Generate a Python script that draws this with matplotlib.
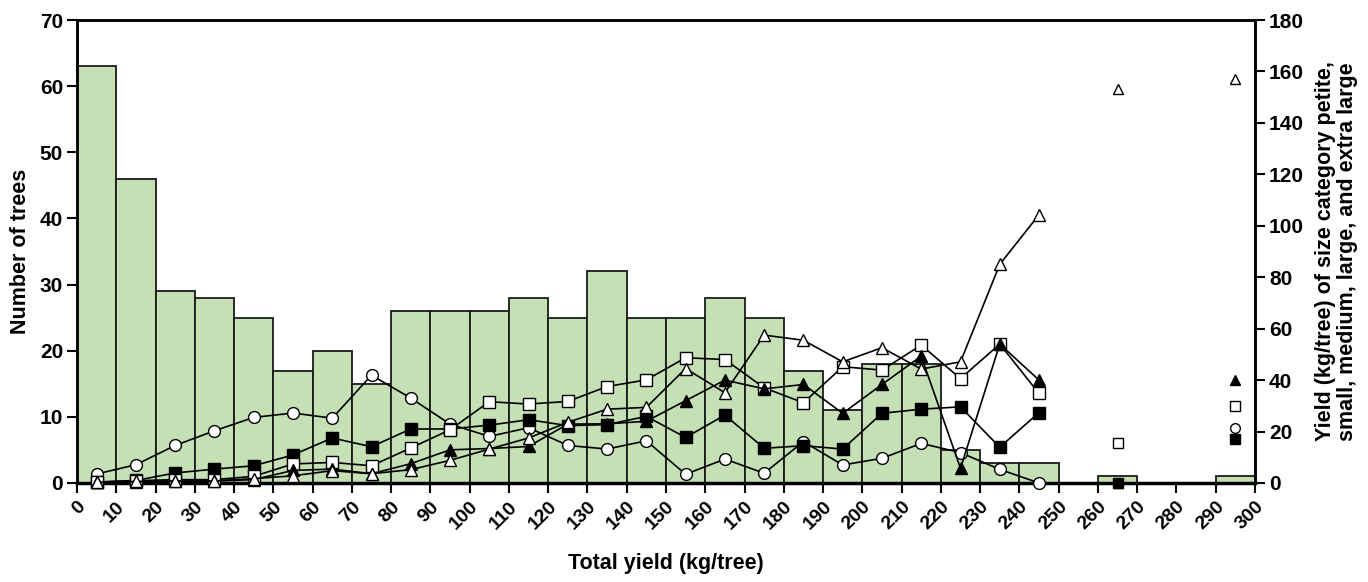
import matplotlib
matplotlib.use("Agg")
import matplotlib.pyplot as plt
import numpy as np

plt.rcParams['font.family'] = ['Liberation Sans', 'DejaVu Sans']
plt.rcParams['font.weight'] = 'bold'

# Histogram: number of trees per 10 kg total-yield bin
bin_left = list(range(0, 300, 10))
tree_counts = [63, 46, 29, 28, 25, 17, 20, 15, 26, 26, 26, 28, 25, 32, 25,
               25, 28, 25, 17, 11, 18, 18, 5, 3, 3, 0, 1, 0, 0, 1]

# Size-category yields (kg/tree) at bin midpoints 5..245 (connected lines)
mid = list(range(5, 250, 10))
petite = [3.5, 7.1, 14.6, 20.3, 25.5, 27.2, 25.2, 41.9, 33.0, 22.9, 18.1, 21.5, 14.6,
          13.2, 16.4, 3.4, 9.3, 3.8, 16.1, 7.0, 9.6, 15.4, 11.8, 5.3, 0.0]
small = [0.3, 1.0, 3.9, 5.4, 6.7, 10.9, 17.5, 14.1, 21.0, 21.0, 22.5, 24.6, 22.3,
         22.7, 25.9, 17.7, 26.4, 13.5, 14.5, 13.2, 27.1, 28.7, 29.6, 13.9, 27.4]
medium = [0.4, 0.9, 1.3, 1.3, 2.6, 7.4, 8.0, 6.7, 13.6, 20.7, 31.6, 30.7, 31.7,
          37.5, 40.1, 48.7, 48.0, 37.0, 31.2, 45.2, 43.9, 53.6, 40.6, 54.0, 34.8]
large = [0.2, 0.5, 0.8, 0.8, 1.3, 4.9, 5.4, 3.6, 7.5, 12.9, 13.4, 14.2, 22.9,
         23.0, 24.0, 32.0, 40.0, 36.6, 38.3, 27.1, 38.3, 49.3, 5.7, 54.0, 40.0]
extra_large = [0.2, 0.6, 0.6, 0.8, 1.7, 2.8, 4.8, 3.6, 5.2, 8.8, 13.2, 17.5, 23.6,
               28.7, 29.4, 44.5, 35.1, 57.5, 55.5, 47.1, 52.6, 44.3, 47.1, 85.0, 104.3]

# Isolated single-tree bins (unconnected points)
iso_x = [265, 295]
iso_petite = [0.0, 21.2]
iso_small = [0.0, 17.3]
iso_medium = [15.7, 29.9]
iso_large = [0.0, 40.0]
iso_extra_large = [153.0, 157.0]

x_ticks = list(range(0, 301, 10))

fig = plt.figure(figsize=(13.68, 5.82), dpi=100)
ax = fig.add_axes([77/1368, 1 - 483/582, (1255 - 77)/1368, (483 - 20)/582])
ax2 = ax.twinx()

ax.bar(bin_left, tree_counts, width=10, align='edge', color='#c5e0b4',
       edgecolor='#1a1a1a', linewidth=1.3, zorder=2)

ax.set_xlim(0, 300)
ax.set_ylim(0, 70)
ax2.set_ylim(0, 180)
ax.set_xticks(x_ticks)
ax.set_xticklabels([str(t) for t in x_ticks], rotation=45, ha='right',
                   rotation_mode='anchor', fontsize=14, fontweight='bold')
ax.set_yticks(range(0, 71, 10))
ax.set_yticklabels([str(t) for t in range(0, 71, 10)], fontsize=15, fontweight='bold')
ax2.set_yticks(range(0, 181, 20))
ax2.set_yticklabels([str(t) for t in range(0, 181, 20)], fontsize=15, fontweight='bold')

for a in (ax, ax2):
    for s in a.spines.values():
        s.set_linewidth(1.8)
        s.set_color('black')
ax.spines['bottom'].set_linewidth(2.5)
ax.tick_params(axis='both', direction='out', length=7, width=1.5, pad=3)
ax.tick_params(axis='x', pad=4)
ax2.tick_params(axis='y', direction='out', length=7, width=1.5, pad=3)

ms = 8.5
style = dict(color='black', lw=1.2, markeredgecolor='black', markeredgewidth=1.0)
ax2.plot(mid, petite, marker='o', markerfacecolor='white', markersize=ms, zorder=3, **style)
ax2.plot(mid, small, marker='s', markerfacecolor='black', markersize=ms - 0.5, zorder=4, **style)
ax2.plot(mid, medium, marker='s', markerfacecolor='white', markersize=ms - 0.5, zorder=5, **style)
ax2.plot(mid, large, marker='^', markerfacecolor='black', markersize=ms + 0.5, zorder=6, **style)
ax2.plot(mid, extra_large, marker='^', markerfacecolor='white', markersize=ms + 0.5, zorder=7, **style)

ims = 7
ax2.plot(iso_x, iso_petite, ls='none', marker='o', markerfacecolor='white', markeredgecolor='black', markersize=ims, zorder=3)
ax2.plot(iso_x, iso_small, ls='none', marker='s', markerfacecolor='black', markeredgecolor='black', markersize=ims - 0.5, zorder=4)
ax2.plot(iso_x, iso_medium, ls='none', marker='s', markerfacecolor='white', markeredgecolor='black', markersize=ims - 0.5, zorder=5)
ax2.plot(iso_x, iso_large, ls='none', marker='^', markerfacecolor='black', markeredgecolor='black', markersize=ims + 0.5, zorder=6)
ax2.plot(iso_x, iso_extra_large, ls='none', marker='^', markerfacecolor='white', markeredgecolor='black', markersize=ims + 0.5, zorder=7)
for l in ax2.lines:
    l.set_clip_on(False)

ax.set_ylabel('Number of trees', fontsize=15.5, fontweight='bold', labelpad=6)
ax2.set_ylabel('Yield (kg/tree) of size category petite,\nsmall, medium, large, and extra large',
               fontsize=15.5, fontweight='bold', labelpad=8, linespacing=1.05)
fig.text(666/1368, 1 - 564/582, 'Total yield (kg/tree)', ha='center', va='center',
         fontsize=15.5, fontweight='bold')

fig.savefig('out.png', dpi=100)
